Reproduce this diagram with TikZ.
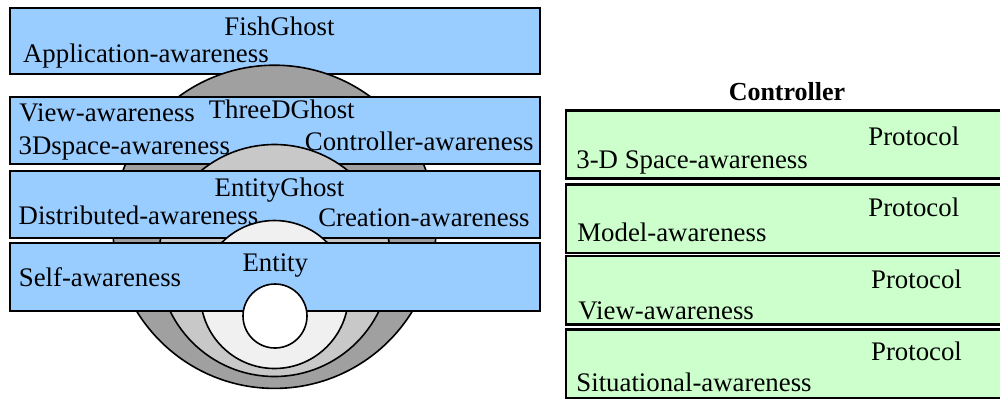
\documentclass[tikz,border=0pt]{standalone}
\usepackage{fontspec}
\setmainfont{Liberation Serif}
\definecolor{boxblue}{HTML}{99CCFF}
\definecolor{boxgreen}{HTML}{CCFFCC}
\definecolor{ringA}{HTML}{A0A0A0}
\definecolor{ringB}{HTML}{C8C8C8}
\definecolor{ringC}{HTML}{F0F0F0}
\begin{document}
\begin{tikzpicture}[x=0.5pt,y=-0.5pt,
  bluebox/.style={draw=black, fill=boxblue, line width=1pt, inner sep=0pt, anchor=north west, minimum width=265.15pt},
  greenbox/.style={draw=black, fill=boxgreen, line width=1.2pt, inner sep=0pt, anchor=north west, minimum width=222.5pt},
  ring/.style={draw=black, line width=0.8pt},
  lbl/.style={inner sep=0pt, font=\fontsize{13.4}{16}\selectfont},
  boldlbl/.style={inner sep=0pt, font=\bfseries\fontsize{13}{16}\selectfont},
]
\useasboundingbox (0,0) rectangle (1000,398);
\clip (0,0) rectangle (1000,398);

% left stack: boxes and nested discs
\node[bluebox, minimum height=32.85pt] (fish) at (9,7.3) {};
\draw[ring, fill=ringA] (274.5,226.8) circle [radius=80.8pt];
\node[bluebox, minimum height=33.65pt] (three) at (9,95.7) {};
\draw[ring, fill=ringB] (274.5,260.5) circle [radius=58pt];
\node[bluebox, minimum height=33.5pt] (eghost) at (9,170) {};
\draw[ring, fill=ringC] (274.5,294.5) circle [radius=37pt];
\node[bluebox, minimum height=34.15pt] (entity) at (9,241.7) {};
\draw[ring, fill=white] (275,316) circle [radius=16pt];

\node[lbl, anchor=base] (tFish) at (279.5,35) {FishGhost};
\node[lbl, anchor=base west] (tApp) at (22.7,62.7) {Application-awareness};
\node[lbl, anchor=base] (tThree) at (281.7,118) {ThreeDGhost};
\node[lbl, anchor=base west] (tView) at (19,121.7) {View-awareness};
\node[lbl, anchor=base west] (t3D) at (18.3,154) {3Dspace-awareness};
\node[lbl, anchor=base east] (tCtrlAw) at (534,150.7) {Controller-awareness};
\node[lbl, anchor=base] (tEG) at (279.5,196.7) {EntityGhost};
\node[lbl, anchor=base west] (tDist) at (18.3,224) {Distributed-awareness};
\node[lbl, anchor=base east] (tCre) at (530,226) {Creation-awareness};
\node[lbl, anchor=base] (tEnt) at (275.3,271.7) {Entity};
\node[lbl, anchor=base west] (tSelf) at (18.5,286) {Self-awareness};

% right: controller protocols
\node[boldlbl, anchor=base] (tCtrl) at (787,100.7) {Controller};
\node[greenbox, minimum height=34pt] (p1) at (565,109.3) {};
\node[greenbox, minimum height=34.2pt] (p2) at (565,183.3) {};
\node[greenbox, minimum height=34.15pt] (p3) at (565,255) {};
\node[greenbox, minimum height=34.2pt] (p4) at (565,328.3) {};

\node[lbl, anchor=base west] (pr1) at (868,145) {Protocol};
\node[lbl, anchor=base west] (pr2) at (868,216.7) {Protocol};
\node[lbl, anchor=base west] (pr3) at (870.7,288.3) {Protocol};
\node[lbl, anchor=base west] (pr4) at (870.7,360.7) {Protocol};
\node[lbl, anchor=base west] (a1) at (576,168.3) {3-D Space-awareness};
\node[lbl, anchor=base west] (a2) at (577,241.7) {Model-awareness};
\node[lbl, anchor=base west] (a3) at (578,319) {View-awareness};
\node[lbl, anchor=base west] (a4) at (576,391.7) {Situational-awareness};
\end{tikzpicture}
\end{document}
